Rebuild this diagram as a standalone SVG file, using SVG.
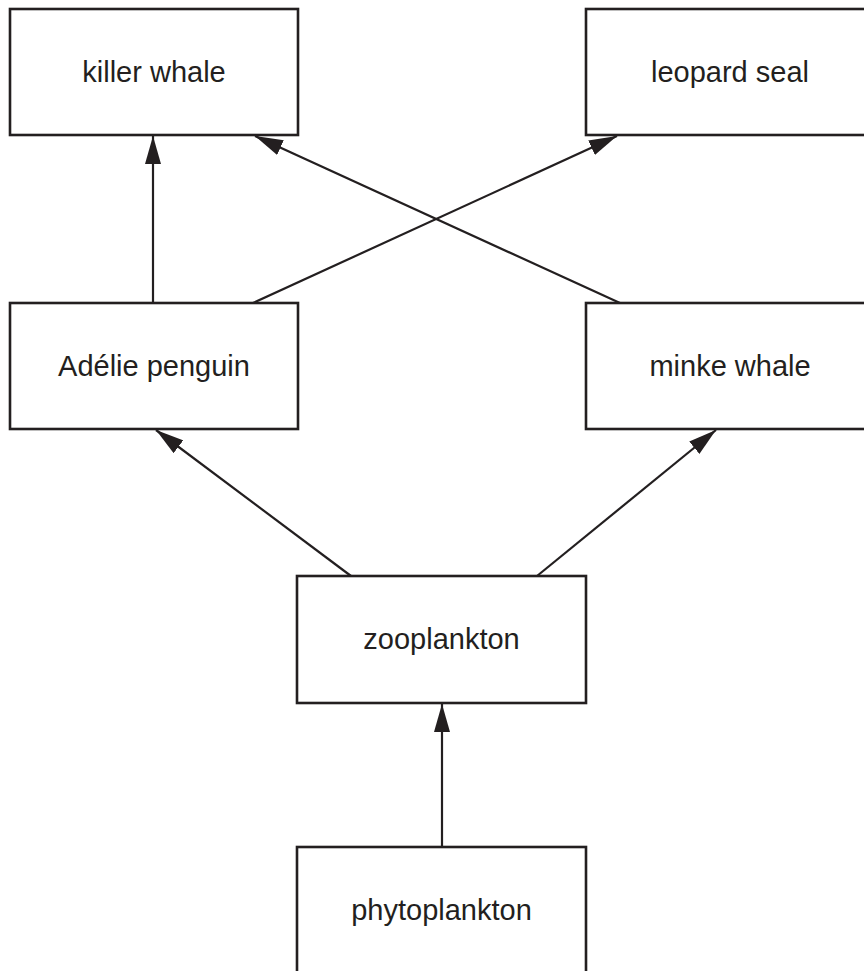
<svg xmlns="http://www.w3.org/2000/svg" width="864" height="971" viewBox="0 0 864 971">
<style>
.box{fill:#fff;stroke:#231f20;stroke-width:2.6}
.lbl{font-family:"Liberation Sans",Arial,sans-serif;font-size:29px;fill:#231f20;text-anchor:middle}
.edge{stroke:#231f20;stroke-width:2.2;fill:none;marker-end:url(#ah)}
</style>
<defs>
<marker id="ah" markerUnits="userSpaceOnUse" markerWidth="28" markerHeight="16" refX="28" refY="8" orient="auto" viewBox="0 0 28 16">
<path d="M0,0 L28,8 L0,16 z" fill="#231f20"/>
</marker>
</defs>
<rect width="864" height="971" fill="#fff"/>
<g id="connectors">
<line class="edge" x1="153" y1="303" x2="153" y2="136"/>
<line class="edge" x1="253" y1="303" x2="617" y2="136"/>
<line class="edge" x1="620" y1="303" x2="255" y2="136"/>
<line class="edge" x1="351" y1="576" x2="156" y2="430"/>
<line class="edge" x1="537" y1="576" x2="716" y2="430"/>
<line class="edge" x1="442" y1="847" x2="442" y2="704"/>
</g>
<g id="killer-whale">
<rect class="box" x="10" y="9" width="288" height="126"/>
<text class="lbl" x="154" y="82">killer whale</text>
</g>
<g id="leopard-seal">
<rect class="box" x="586" y="9" width="288" height="126"/>
<text class="lbl" x="730" y="82">leopard seal</text>
</g>
<g id="adelie-penguin">
<rect class="box" x="10" y="303" width="288" height="126"/>
<text class="lbl" x="154" y="376">Adélie penguin</text>
</g>
<g id="minke-whale">
<rect class="box" x="586" y="303" width="288" height="126"/>
<text class="lbl" x="730" y="376">minke whale</text>
</g>
<g id="zooplankton">
<rect class="box" x="297" y="576" width="289" height="127"/>
<text class="lbl" x="441.5" y="649">zooplankton</text>
</g>
<g id="phytoplankton">
<rect class="box" x="297" y="847" width="289" height="127"/>
<text class="lbl" x="441.5" y="920">phytoplankton</text>
</g>
</svg>
